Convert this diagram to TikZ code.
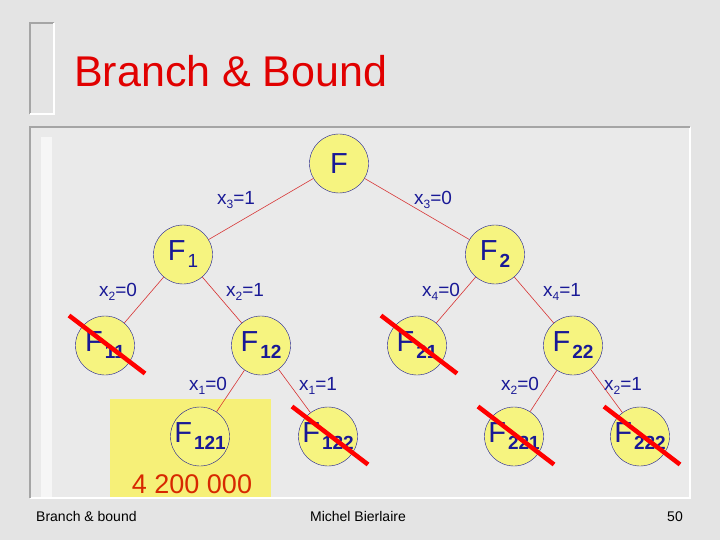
\documentclass[tikz,border=0pt]{standalone}
\usepackage{fontspec}
\setmainfont{Liberation Sans}
\usetikzlibrary{positioning}

\definecolor{slidegray}{RGB}{228,228,228}
\definecolor{panelgray}{RGB}{234,234,234}
\definecolor{framegray}{RGB}{165,165,165}
\definecolor{titlered}{RGB}{225,0,0}
\definecolor{navy}{RGB}{25,25,150}
\definecolor{nodeyellow}{RGB}{246,244,128}
\definecolor{boxyellow}{RGB}{246,240,120}
\definecolor{edgered}{RGB}{215,50,50}
\definecolor{valred}{RGB}{215,40,0}

\newcommand{\fsub}[2][\bfseries]{F\kern2pt\raisebox{-7pt}{\fontsize{19}{19}\selectfont#1{}#2}}
\newcommand{\xeq}[2]{x\raisebox{-4pt}{\fontsize{12}{12}\selectfont #1}=#2}

\tikzset{
  prob/.style={circle, draw=navy, fill=nodeyellow, minimum size=59pt, inner sep=-16pt,
    text=navy, font=\fontsize{29}{29}\selectfont},
  lbl/.style={text=navy, font=\fontsize{19}{19}\selectfont, inner sep=0pt},
  branch/.style={draw=edgered, line width=0.6pt},
  strike/.style={draw=red, line width=4.5pt},
  foot/.style={font=\fontsize{14}{14}\selectfont, inner sep=0pt}
}

\begin{document}
\begin{tikzpicture}[x=1pt, y=-1pt, on grid, node distance=91pt and 78pt]
  \useasboundingbox (0,0) rectangle (720,540);
  \fill[slidegray] (0,0) rectangle (720,540);

  % title frame
  \draw[framegray, line width=2pt] (54,23) -- (30,23) -- (30,114);
  \draw[white, line width=2pt] (30,114) -- (54,114) -- (54,23);
  \node[anchor=base west, text=titlered, font=\fontsize{43}{43}\selectfont, inner sep=0pt]
    (title) at (74,87) {Branch \& Bound};

  % content panel
  \fill[panelgray] (30,127) rectangle (690,498);
  \fill[white!55!panelgray] (41,137) rectangle (52,497);
  \draw[white, line width=1.5pt] (30,498) -- (690,498) -- (690,127);
  \draw[framegray, line width=2pt] (30,498) -- (30,127) -- (690,127);

  % best solution
  \fill[boxyellow] (110,399) rectangle (271,497);
  \node[anchor=base, text=valred, font=\fontsize{27}{27}\selectfont, inner sep=0pt]
    (bound) at (192,493) {4 200 000};

  \node[prob] (F) at (339,163.5) {F};
  \node[prob] (F1) [below left=91pt and 156pt of F] {\fsub[\mdseries]{1}};
  \node[prob] (F2) [below right=91pt and 156pt of F] {\fsub{2}};
  \node[prob] (F11) [below left=of F1] {\fsub{11}};
  \node[prob] (F12) [below right=of F1] {\fsub{12}};
  \node[prob] (F21) [below left=of F2] {\fsub{21}};
  \node[prob] (F22) [below right=of F2] {\fsub{22}};
  \node[prob] (F121) [below left=91pt and 61pt of F12] {\fsub{121}};
  \node[prob] (F122) [below right=91pt and 67pt of F12] {\fsub{122}};
  \node[prob] (F221) [below left=91pt and 59pt of F22] {\fsub{221}};
  \node[prob] (F222) [below right=91pt and 67pt of F22] {\fsub{222}};

  \path[branch]
    (F) edge (F1)
    (F) edge (F2)
    (F1) edge (F11)
    (F1) edge (F12)
    (F2) edge (F21)
    (F2) edge (F22)
    (F12) edge (F121)
    (F12) edge (F122)
    (F22) edge (F221)
    (F22) edge (F222);

  \node[lbl] (x3one) at (236,200) {\xeq{3}{1}};
  \node[lbl] (x3zero) at (433,200) {\xeq{3}{0}};
  \node[lbl] (x2zero) at (118,292) {\xeq{2}{0}};
  \node[lbl] (x2one) at (245,292) {\xeq{2}{1}};
  \node[lbl] (x4zero) at (441,292) {\xeq{4}{0}};
  \node[lbl] (x4one) at (562,292) {\xeq{4}{1}};
  \node[lbl] (x1zero) at (208,386) {\xeq{1}{0}};
  \node[lbl] (x1one) at (318,386) {\xeq{1}{1}};
  \node[lbl] (y2zero) at (520,386) {\xeq{2}{0}};
  \node[lbl] (y2one) at (623,386) {\xeq{2}{1}};

  % pruned nodes
  \foreach \n in {F11,F21,F122,F221,F222}
    \draw[strike] (\n) ++(-36,-30) -- ++(76,58);

  % footer
  \node[foot, anchor=base west] (ftitle) at (36,521) {Branch \& bound};
  \node[foot, anchor=base] (fauthor) at (358,521) {Michel Bierlaire};
  \node[foot, anchor=base east] (fpage) at (683,521) {50};
\end{tikzpicture}
\end{document}
